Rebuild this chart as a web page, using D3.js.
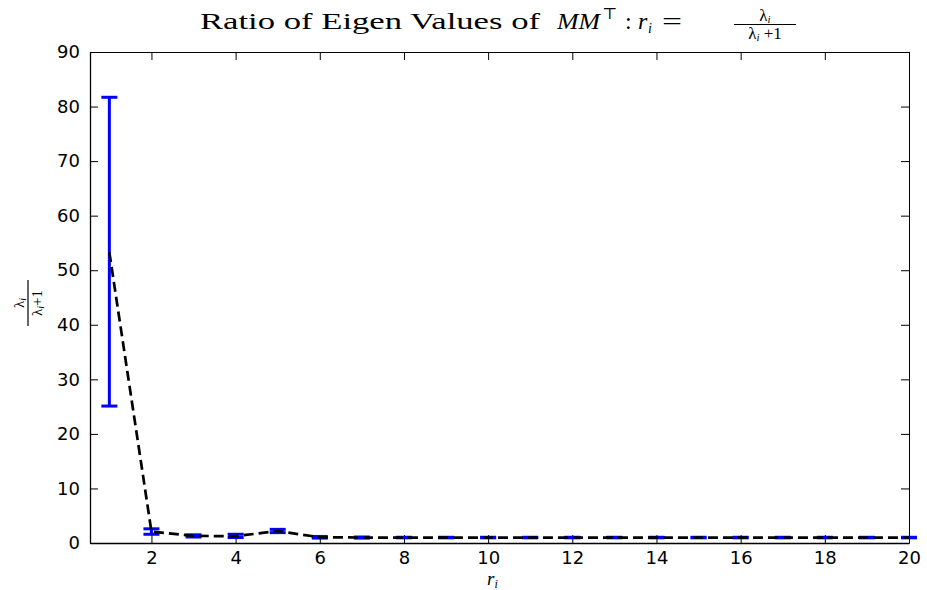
<!DOCTYPE html>
<html lang="en">
<head>
    <meta charset="UTF-8">
    <title>Ratio of Eigen Values</title>
    <script src="https://d3js.org/d3.v7.min.js"></script>
    <style>
        body { margin: 0; background: #fff; }
        .tick text { font: 18px "DejaVu Sans", sans-serif; fill: #000; }
        .tick line { stroke: #000; }
        .domain { stroke: #000; }
        .ser { font-family: "Liberation Serif", "DejaVu Serif", serif; fill: #000; }
    </style>
</head>
<body>
<svg width="927" height="590"></svg>
<script>
    // data
    const idx = d3.range(1, 21);
    const means = [53.3, 2.1, 1.3, 1.25, 2.2, 1.05, 1.0, 1.0, 1.0, 1.0, 1.0, 1.0, 1.0, 1.0, 1.0, 1.0, 1.0, 1.0, 1.0, 1.0];
    const lower = [25.1, 1.6, 1.1, 1.0, 1.9, 0.9, 0.9, 0.95, 0.95, 0.95, 0.95, 0.95, 0.95, 0.95, 0.95, 0.95, 0.95, 0.95, 0.95, 0.95];
    const upper = [81.7, 2.6, 1.5, 1.6, 2.5, 1.2, 1.1, 1.05, 1.05, 1.05, 1.05, 1.05, 1.05, 1.05, 1.05, 1.05, 1.05, 1.05, 1.05, 1.05];
    const xTicks = [2, 4, 6, 8, 10, 12, 14, 16, 18, 20];
    const yTicks = [0, 10, 20, 30, 40, 50, 60, 70, 80, 90];

    const m = { left: 90, right: 18, top: 52, bottom: 47 };
    const W = 927, H = 590;
    const svg = d3.select("svg");

    const x = d3.scaleLinear().domain([0.54, 20]).range([m.left, W - m.right]);
    const y = d3.scaleLinear().domain([0, 90]).range([H - m.bottom, m.top]);

    // axes, ticks inside, mirrored on top/right
    svg.append("g").attr("transform", `translate(0,${H - m.bottom})`)
        .call(d3.axisBottom(x).tickValues(xTicks).tickSize(-8).tickPadding(8).tickSizeOuter(0))
        .call(g => g.select(".domain").attr("stroke-width", 1.3));
    svg.append("g").attr("transform", `translate(${m.left},0)`)
        .call(d3.axisLeft(y).tickValues(yTicks).tickSize(-8).tickPadding(10).tickSizeOuter(0))
        .call(g => g.select(".domain").attr("stroke-width", 1.3));
    svg.append("g").attr("transform", `translate(0,${m.top})`)
        .call(d3.axisTop(x).tickValues(xTicks).tickSize(-8).tickFormat("").tickSizeOuter(0))
        .call(g => g.select(".domain").attr("stroke", "#333"));
    svg.append("g").attr("transform", `translate(${W - m.right},0)`)
        .call(d3.axisRight(y).tickValues(yTicks).tickSize(-8).tickFormat("").tickSizeOuter(0))
        .call(g => g.select(".domain").attr("stroke", "#333"));

    // error bars
    const eb = svg.append("g").attr("stroke", "#0000ff").attr("stroke-width", 3).attr("fill", "none");
    idx.forEach((d, i) => {
        eb.append("line").attr("x1", x(d)).attr("x2", x(d)).attr("y1", y(lower[i])).attr("y2", y(upper[i]));
        eb.append("line").attr("x1", x(d) - 8).attr("x2", x(d) + 8).attr("y1", y(lower[i])).attr("y2", y(lower[i]));
        eb.append("line").attr("x1", x(d) - 8).attr("x2", x(d) + 8).attr("y1", y(upper[i])).attr("y2", y(upper[i]));
    });

    // mean line, dashed black
    svg.append("path")
        .datum(idx.map((d, i) => [d, means[i]]))
        .attr("fill", "none")
        .attr("stroke", "#000")
        .attr("stroke-width", 2.7)
        .attr("stroke-dasharray", "10,5")
        .attr("d", d3.line().x(d => x(d[0])).y(d => y(d[1])));

    // title
    svg.append("text").attr("class", "ser").attr("x", 200).attr("y", 29).attr("font-size", 24)
        .attr("textLength", 340).attr("lengthAdjust", "spacingAndGlyphs").text("Ratio of Eigen Values of");
    svg.append("text").attr("class", "ser").attr("x", 557).attr("y", 29).attr("font-size", 24)
        .attr("font-style", "italic").attr("textLength", 43).attr("lengthAdjust", "spacingAndGlyphs").text("MM");
    svg.append("text").attr("class", "ser").attr("x", 602).attr("y", 19).attr("font-size", 16).text("⊤");
    svg.append("text").attr("class", "ser").attr("x", 625).attr("y", 29).attr("font-size", 24).text(":");
    svg.append("text").attr("class", "ser").attr("x", 638).attr("y", 29).attr("font-size", 24)
        .attr("font-style", "italic").text("r");
    svg.append("text").attr("class", "ser").attr("x", 648).attr("y", 33).attr("font-size", 14)
        .attr("font-style", "italic").text("i");
    svg.append("text").attr("class", "ser").attr("x", 662).attr("y", 29).attr("font-size", 24)
        .attr("textLength", 20).attr("lengthAdjust", "spacingAndGlyphs").text("=");
    const fx = 765;
    const num = svg.append("text").attr("class", "ser").attr("x", fx).attr("y", 21).attr("font-size", 17)
        .attr("text-anchor", "middle");
    num.append("tspan").text("λ");
    num.append("tspan").attr("font-size", 11).attr("dy", 2).attr("font-style", "italic").text("i");
    svg.append("line").attr("x1", 734).attr("x2", 796).attr("y1", 24.5).attr("y2", 24.5)
        .attr("stroke", "#000").attr("stroke-width", 1.2);
    const den = svg.append("text").attr("class", "ser").attr("x", fx).attr("y", 39).attr("font-size", 17)
        .attr("text-anchor", "middle");
    den.append("tspan").text("λ");
    den.append("tspan").attr("font-size", 11).attr("dy", 2).attr("font-style", "italic").text("i");
    den.append("tspan").attr("dy", -2).text(" +1");

    // x label
    const xl = svg.append("text").attr("class", "ser").attr("x", 487).attr("y", 585).attr("font-size", 19)
        .attr("font-style", "italic");
    xl.append("tspan").text("r");
    xl.append("tspan").attr("font-size", 12).attr("dy", 3).text("i");

    // y label, rotated fraction
    const yl = svg.append("g").attr("transform", "translate(28,303) rotate(-90)");
    const yn = yl.append("text").attr("class", "ser").attr("y", -4).attr("font-size", 15).attr("text-anchor", "middle");
    yn.append("tspan").text("λ");
    yn.append("tspan").attr("font-size", 10).attr("dy", 2).attr("font-style", "italic").text("i");
    yl.append("line").attr("x1", -23).attr("x2", 23).attr("stroke", "#000").attr("stroke-width", 1.2);
    const yd = yl.append("text").attr("class", "ser").attr("y", 14).attr("font-size", 15).attr("text-anchor", "middle");
    yd.append("tspan").text("λ");
    yd.append("tspan").attr("font-size", 10).attr("dy", 2).attr("font-style", "italic").text("i");
    yd.append("tspan").attr("dy", -2).text("+1");
</script>
</body>
</html>
